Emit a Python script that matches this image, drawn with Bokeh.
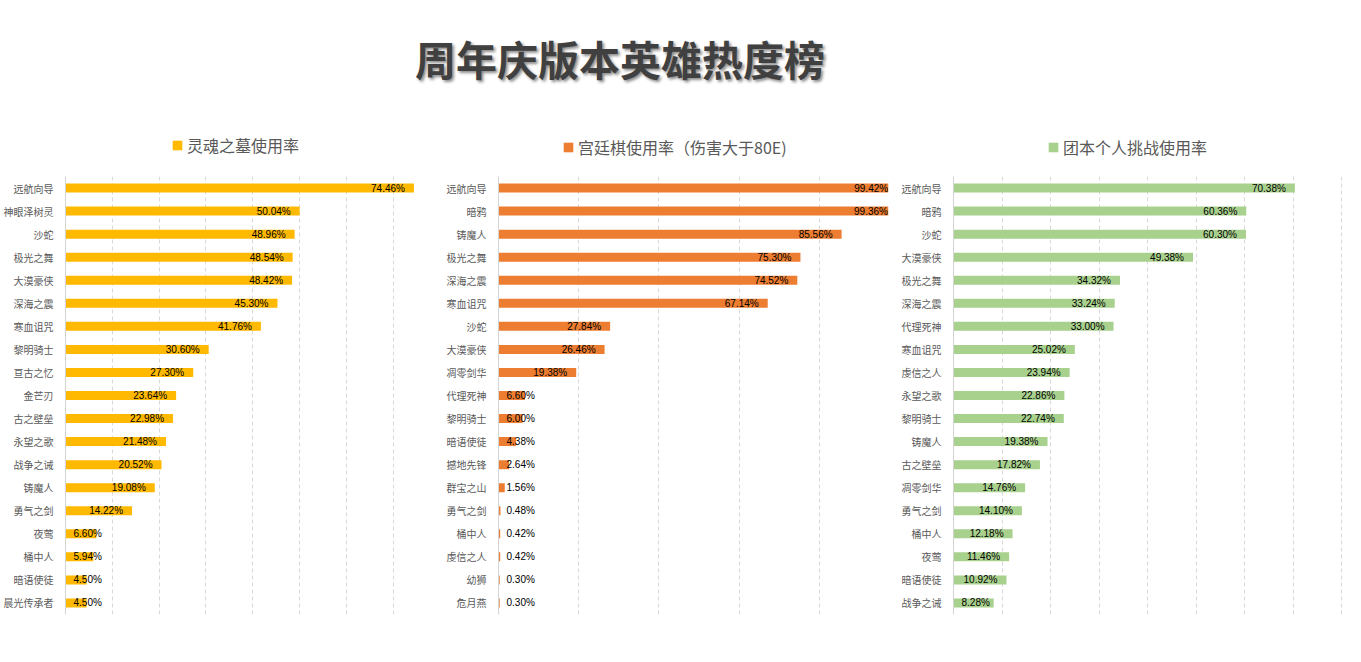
from bokeh.plotting import figure
from bokeh.models import (ColumnDataSource, FactorRange, Range1d, Legend, LegendItem,
                          Div, SingleIntervalTicker)
from bokeh.layouts import column, row
from bokeh.embed import file_html
from bokeh.resources import INLINE
from bokeh.core.properties import value, field

title_text = "周年庆版本英雄热度榜"

s1_name = "灵魂之墓使用率"
s1_heroes = ["远航向导", "神眼泽树灵", "沙蛇", "极光之舞", "大漠豪侠", "深海之震", "寒血诅咒",
             "黎明骑士", "亘古之忆", "金芒刃", "古之壁垒", "永望之歌", "战争之诫", "铸魔人",
             "勇气之剑", "夜莺", "桶中人", "暗语使徒", "晨光传承者"]
s1_values = [74.46, 50.04, 48.96, 48.54, 48.42, 45.30, 41.76, 30.60, 27.30, 23.64,
             22.98, 21.48, 20.52, 19.08, 14.22, 6.60, 5.94, 4.50, 4.50]

s2_name = "宫廷棋使用率（伤害大于80E)"
s2_heroes = ["远航向导", "暗鸦", "铸魔人", "极光之舞", "深海之震", "寒血诅咒", "沙蛇", "大漠豪侠",
             "凋零剑华", "代理死神", "黎明骑士", "暗语使徒", "撼地先锋", "群宝之山", "勇气之剑",
             "桶中人", "虔信之人", "幼狮", "危月燕"]
s2_values = [99.42, 99.36, 85.56, 75.30, 74.52, 67.14, 27.84, 26.46, 19.38, 6.60,
             6.00, 4.38, 2.64, 1.56, 0.48, 0.42, 0.42, 0.30, 0.30]

s3_name = "团本个人挑战使用率"
s3_heroes = ["远航向导", "暗鸦", "沙蛇", "大漠豪侠", "极光之舞", "深海之震", "代理死神", "寒血诅咒",
             "虔信之人", "永望之歌", "黎明骑士", "铸魔人", "古之壁垒", "凋零剑华", "勇气之剑",
             "桶中人", "夜莺", "暗语使徒", "战争之诫"]
s3_values = [70.38, 60.36, 60.30, 49.38, 34.32, 33.24, 33.00, 25.02, 23.94, 22.86,
             22.74, 19.38, 17.82, 14.76, 14.10, 12.18, 11.46, 10.92, 8.28]

colors = ["#FFB900", "#ED7D31", "#A9D18E"]

CJK = "Noto Sans CJK SC"
LABEL_PX = 10
TOTAL_W = 1353
TITLE_H = 110
LEG_H = 44
MAIN_H = 484
BT, BB = 12, 34


def make_panel(heroes, values, color, width, bl, br, xmax, grid_step, bar_h):
    p = figure(width=width, height=MAIN_H,
               y_range=FactorRange(factors=list(reversed(heroes))),
               x_range=Range1d(0, xmax),
               output_backend="svg", toolbar_location=None,
               min_border_left=bl, min_border_right=br,
               min_border_top=BT, min_border_bottom=BB)
    p.outline_line_color = None
    p.background_fill_color = "white"
    p.border_fill_color = "white"

    fpx = (width - bl - br) / xmax
    labels = [f"{v:.2f}%" for v in values]
    lx, la, lo = [], [], []
    for v, t in zip(values, labels):
        w = LABEL_PX * (sum(0.556 for c in t if c.isdigit()) + 0.278 + 0.889)
        if v * fpx - 9 - w >= 8:
            lx.append(v); la.append("right"); lo.append(-9)
        else:
            lx.append(0); la.append("left"); lo.append(8)
    src = ColumnDataSource(dict(hero=heroes, val=values, lab=labels, lx=lx, la=la, lo=lo))

    p.hbar(y="hero", left=0, right="val", height=bar_h, fill_color=color,
           line_color=None, source=src)
    p.text(x="lx", y="hero", text="lab", text_align=field("la"), x_offset=field("lo"),
           text_baseline="middle", text_font=value("Liberation Sans"),
           text_font_size=f"{LABEL_PX}px", text_color="#000000", source=src)

    p.xaxis.visible = False
    p.ygrid.visible = False
    p.xgrid.ticker = SingleIntervalTicker(interval=grid_step)
    p.xgrid.grid_line_color = "#d9d9d9"
    p.xgrid.grid_line_dash = "4 3"
    p.xgrid.grid_line_width = 1

    ax = p.yaxis[0]
    ax.axis_line_color = "#d4d4d4"
    ax.major_tick_line_color = None
    ax.minor_tick_line_color = None
    ax.major_label_text_font = CJK
    ax.major_label_text_font_size = "10px"
    ax.major_label_text_color = "#595959"
    ax.major_label_standoff = 6
    return p


p1 = make_panel(s1_heroes, s1_values, colors[0], 431, 63, 1, 78, 10, 0.39)
p2 = make_panel(s2_heroes, s2_values, colors[1], 467, 67, 10, 97.26, 20, 0.39)
p3 = make_panel(s3_heroes, s3_values, colors[2], 455, 52, 11, 80.2, 10, 0.39)

# legend strip (one legend per panel, positioned above each chart)
lf = figure(width=TOTAL_W, height=LEG_H, x_range=Range1d(0, TOTAL_W),
            y_range=Range1d(0, LEG_H), output_backend="svg", toolbar_location=None,
            min_border_left=0, min_border_right=0, min_border_top=0, min_border_bottom=0)
lf.axis.visible = False
lf.grid.visible = False
lf.outline_line_color = None

legend_specs = [(s1_name, s1_values, colors[0], 171, 28),
                (s2_name, s2_values, colors[1], 562, 30),
                (s3_name, s3_values, colors[2], 1047, 30)]
for name, vals, col, lx_px, cy in legend_specs:
    key = lf.hbar(y="v", left=0, right="v", height=1, fill_color=col, line_color=None,
                  source=ColumnDataSource(dict(v=vals)), visible=False)
    lg = Legend(items=[LegendItem(label=name, renderers=[key])],
                orientation="horizontal", location=(lx_px, LEG_H - cy - 9),
                glyph_width=12, glyph_height=12, label_standoff=4,
                label_height=16, padding=0, spacing=0, margin=0,
                border_line_color=None, background_fill_alpha=0,
                inactive_fill_alpha=0,
                label_text_font=CJK, label_text_font_size="16px",
                label_text_color="#595959", label_text_baseline="middle")
    lf.add_layout(lg, "center")

title = Div(text=(
    '<div style="padding-left:410px;padding-top:33px;font-size:41px;font-weight:bold;'
    'line-height:1;color:#404040;font-family:\'Noto Sans CJK SC\';'
    'text-shadow:2px 2px 3px rgba(0,0,0,0.45);white-space:nowrap;">'
    + title_text + '</div>'), width=TOTAL_W, height=TITLE_H)

layout = column(title, lf, row(p1, p2, p3, spacing=0), spacing=0)

open("out.html", "w").write(file_html(layout, INLINE))
